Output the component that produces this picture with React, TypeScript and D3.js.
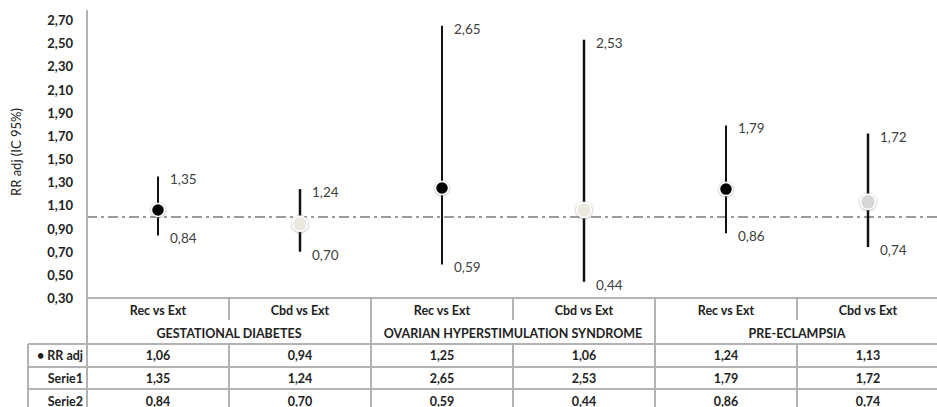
import React from "react";
import * as d3 from "d3";

const categories = ["Rec vs Ext", "Cbd vs Ext", "Rec vs Ext", "Cbd vs Ext", "Rec vs Ext", "Cbd vs Ext"];
const groups = ["GESTATIONAL DIABETES", "OVARIAN HYPERSTIMULATION SYNDROME", "PRE-ECLAMPSIA"];
const rrAdj = [1.06, 0.94, 1.25, 1.06, 1.24, 1.13];
const serie1 = [1.35, 1.24, 2.65, 2.53, 1.79, 1.72];
const serie2 = [0.84, 0.70, 0.59, 0.44, 0.86, 0.74];
const markerFills = ["#000000", "#ebe9df", "#000000", "#ebe9df", "#000000", "#d6d6d6"];
const yTicks = [0.3, 0.5, 0.7, 0.9, 1.1, 1.3, 1.5, 1.7, 1.9, 2.1, 2.3, 2.5, 2.7];
const refValue = 1.0;
const rowLabels = ["• RR adj", "Serie1", "Serie2"];

const W = 937;
const H = 407;
const fmt = (v: number) => v.toFixed(2).replace(".", ",");

export default function App() {
  const x = d3.scaleBand<number>().domain(d3.range(categories.length)).range([87, 939]).padding(0);
  const y = d3.scaleLinear().domain([0.3, 2.7]).range([298, 20]);
  const bw = x.bandwidth();
  const cx = (i: number) => (x(i) as number) + bw / 2;
  const gridColor = "#b3b3b3";
  const font = "Lato, 'Open Sans', sans-serif";
  const rows = [rrAdj, serie1, serie2];
  const rowY = [355, 378, 401];
  const hLines = [344, 367, 389];
  const tableFs = 12.5;

  return (
    <div style={{ position: "absolute", left: 0, top: 0 }}>
      <svg width={W} height={H} style={{ display: "block", background: "#fff" }}>
        <defs>
          <filter id="sh" x="-50%" y="-50%" width="200%" height="200%">
            <feDropShadow dx="0" dy="0.5" stdDeviation="1.2" floodColor="#777" floodOpacity="0.7" />
          </filter>
        </defs>
        {/* y axis title */}
        <text
          transform={`translate(16,152) rotate(-90)`}
          textAnchor="middle"
          dominantBaseline="central"
          fontFamily={font}
          fontSize={13}
          fill="#222"
        >
          RR  adj (IC 95%)
        </text>
        {/* tick labels */}
        {yTicks.map((t) => (
          <text
            key={t}
            x={73}
            y={y(t)}
            textAnchor="end"
            dominantBaseline="central"
            fontFamily={font}
            fontWeight="bold"
            fontSize={13}
            fill="#222"
          >
            {fmt(t)}
          </text>
        ))}
        {/* reference line */}
        <line
          x1={87}
          x2={W}
          y1={y(refValue)}
          y2={y(refValue)}
          stroke="#9a9a9a"
          strokeWidth={2}
          strokeDasharray="10 4 3 4"
        />
        {/* table grid */}
        <line x1={87} x2={87} y1={10} y2={H} stroke={gridColor} strokeWidth={2} />
        <line x1={87} x2={939} y1={298} y2={298} stroke={gridColor} strokeWidth={2} />
        {hLines.map((hy) => (
          <line key={hy} x1={28} x2={939} y1={hy} y2={hy} stroke={gridColor} strokeWidth={2} />
        ))}
        <line x1={28} x2={28} y1={344} y2={H} stroke={gridColor} strokeWidth={2} />
        {d3.range(1, categories.length + 1).map((i) => {
          const bx = i === categories.length ? 939 : (x(i) as number);
          const isGroup = i % 2 === 0;
          return (
            <g key={i}>
              <line x1={bx} x2={bx} y1={298} y2={isGroup ? H : 320} stroke={gridColor} strokeWidth={2} />
              {!isGroup && <line x1={bx} x2={bx} y1={344} y2={H} stroke={gridColor} strokeWidth={2} />}
            </g>
          );
        })}
        {/* category labels */}
        {categories.map((c, i) => (
          <text
            key={i}
            x={cx(i)}
            y={310}
            textAnchor="middle"
            dominantBaseline="central"
            fontFamily={font}
            fontWeight="bold"
            fontSize={tableFs}
            fill="#222"
          >
            {c}
          </text>
        ))}
        {groups.map((g, gi) => (
          <text
            key={g}
            x={x(gi * 2 + 1) as number}
            y={333}
            textAnchor="middle"
            dominantBaseline="central"
            fontFamily={font}
            fontWeight="bold"
            fontSize={tableFs}
            fill="#222"
          >
            {g}
          </text>
        ))}
        {/* table rows */}
        {rows.map((vals, ri) => (
          <g key={ri}>
            <text
              x={83}
              y={rowY[ri]}
              textAnchor="end"
              dominantBaseline="central"
              fontFamily={font}
              fontWeight="bold"
              fontSize={tableFs}
              fill="#222"
            >
              {rowLabels[ri]}
            </text>
            {vals.map((v, i) => (
              <text
                key={i}
                x={cx(i)}
                y={rowY[ri]}
                textAnchor="middle"
                dominantBaseline="central"
                fontFamily={font}
                fontWeight="bold"
                fontSize={tableFs}
                fill="#222"
              >
                {fmt(v)}
              </text>
            ))}
          </g>
        ))}
        {/* error bars */}
        {categories.map((_, i) => (
          <g key={i}>
            <line
              x1={cx(i)}
              x2={cx(i)}
              y1={y(serie1[i])}
              y2={y(serie2[i])}
              stroke="#111"
              strokeWidth={i % 2 === 0 ? 2 : 2.5}
            />
            <circle
              cx={cx(i)}
              cy={y(rrAdj[i])}
              r={i % 2 === 0 ? 6.5 : 7.5}
              fill={markerFills[i]}
              stroke="#fff"
              strokeWidth={1.5}
              filter="url(#sh)"
            />
            <text
              x={cx(i) + 12}
              y={y(serie1[i]) + 3}
              dominantBaseline="central"
              fontFamily={font}
              fontSize={13.5}
              fill="#404040"
            >
              {fmt(serie1[i])}
            </text>
            <text
              x={cx(i) + 12}
              y={y(serie2[i]) + 3}
              dominantBaseline="central"
              fontFamily={font}
              fontSize={13.5}
              fill="#404040"
            >
              {fmt(serie2[i])}
            </text>
          </g>
        ))}
      </svg>
    </div>
  );
}
